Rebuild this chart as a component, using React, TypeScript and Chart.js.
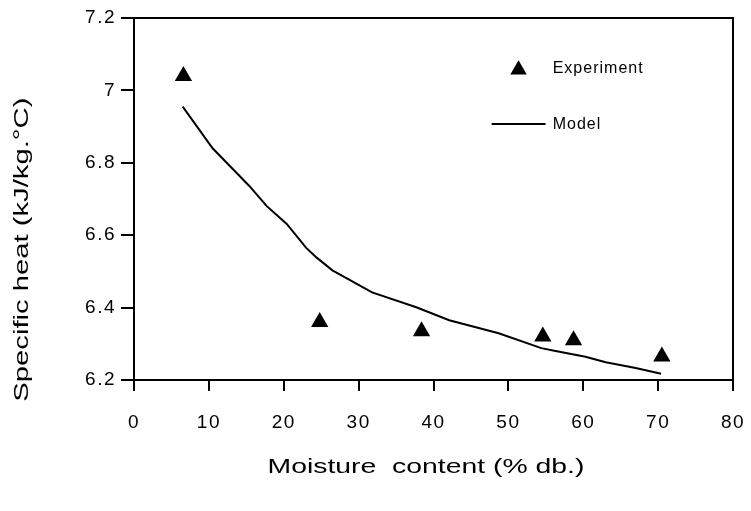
import React, { useEffect, useRef } from "react";
import { Chart, registerables } from "chart.js";

Chart.register(...registerables);

// Experimental data (moisture content % db., specific heat kJ/kg.°C)
const expX = [6.6, 24.8, 38.4, 54.6, 58.7, 70.5];
const expY = [7.04, 6.36, 6.335, 6.32, 6.31, 6.265];

// Model curve
const modelX = [6.5, 10.5, 15.4, 17.7, 20.4, 23.0, 24.4, 26.5, 31.8, 37.7, 42.1, 48.7, 54.4, 56.3, 60.3, 63.0, 67.0, 70.4];
const modelY = [6.955, 6.84, 6.736, 6.681, 6.631, 6.565, 6.538, 6.503, 6.442, 6.401, 6.365, 6.329, 6.288, 6.28, 6.264, 6.249, 6.233, 6.217];

// Tick values / labels
const xTicks = [0, 10, 20, 30, 40, 50, 60, 70, 80];
const yTicks = [6.2, 6.4, 6.6, 6.8, 7.0, 7.2];
const yTickLabels = ["6.2", "6.4", "6.6", "6.8", "7", "7.2"];

const legendLabels = ["Experiment", "Model"];
const xTitle = "Moisture  content (% db.)";
const yTitle = "Specific heat (kJ/kg.\u00B0C)";

const FONT = "'Liberation Sans', Arial, Helvetica, sans-serif";

function stretchedText(ctx: any, text: string, x: number, y: number, rot: number, length: number, size: number) {
  ctx.save();
  ctx.letterSpacing = "0px";
  ctx.font = `${size}px ${FONT}`;
  const m = ctx.measureText(text).width;
  ctx.translate(x, y);
  ctx.rotate(rot);
  ctx.scale(length / m, 1);
  ctx.textAlign = "center";
  ctx.textBaseline = "middle";
  ctx.fillStyle = "#000";
  ctx.fillText(text, 0, 0);
  ctx.restore();
}

const framePlugin = {
  id: "frame",
  beforeDraw(chart: any) {
    chart.ctx.letterSpacing = "1.5px";
  },
  afterDraw(chart: any) {
    const { ctx, chartArea } = chart;
    const { left, right, top, bottom } = chartArea;
    const w = right - left;
    const h = bottom - top;
    ctx.save();
    ctx.strokeStyle = "#000";
    ctx.lineWidth = 2;
    ctx.beginPath();
    ctx.moveTo(left - 13, top);
    ctx.lineTo(right, top);
    ctx.lineTo(right, bottom);
    ctx.stroke();

    // Axis titles
    stretchedText(ctx, xTitle, left + 0.4875 * w, bottom + 87, 0, 0.529 * w, 20);
    stretchedText(ctx, yTitle, left - 112, top + 0.64 * h, -Math.PI / 2, 0.84 * h, 20);

    // Legend
    const tx = left + 0.642 * w;
    const ty = top + 0.143 * h;
    const r = 9.5;
    ctx.fillStyle = "#000";
    ctx.beginPath();
    ctx.moveTo(tx, ty - r);
    ctx.lineTo(tx + r * Math.sin((2 * Math.PI) / 3), ty - r * Math.cos((2 * Math.PI) / 3));
    ctx.lineTo(tx - r * Math.sin((2 * Math.PI) / 3), ty - r * Math.cos((2 * Math.PI) / 3));
    ctx.closePath();
    ctx.fill();

    ctx.letterSpacing = "1px";
    ctx.font = `16px ${FONT}`;
    ctx.textBaseline = "middle";
    ctx.textAlign = "left";
    const textX = left + 0.699 * w;
    ctx.fillText(legendLabels[0], textX, top + 0.14 * h);

    const ly = top + 0.293 * h;
    ctx.beginPath();
    ctx.moveTo(left + 0.597 * w, ly);
    ctx.lineTo(left + 0.687 * w, ly);
    ctx.stroke();
    ctx.fillText(legendLabels[1], textX, ly + 1);
    ctx.restore();
  },
};

export default function App() {
  const ref = useRef<HTMLCanvasElement | null>(null);

  useEffect(() => {
    if (!ref.current) return;
    const chart = new Chart(ref.current, {
      type: "scatter",
      data: {
        datasets: [
          {
            label: legendLabels[1],
            type: "line",
            data: modelX.map((x, i) => ({ x, y: modelY[i] })),
            borderColor: "#000",
            borderWidth: 2,
            pointRadius: 0,
            fill: false,
            tension: 0,
          } as any,
          {
            label: legendLabels[0],
            data: expX.map((x, i) => ({ x, y: expY[i] })),
            pointStyle: "triangle",
            pointRadius: 10,
            backgroundColor: "#000",
            borderColor: "#000",
            borderWidth: 0,
          },
        ],
      },
      options: {
        animation: false,
        responsive: false,
        maintainAspectRatio: false,
        layout: { padding: { left: 0, top: 8, right: 8, bottom: 0 } },
        plugins: {
          legend: { display: false },
          tooltip: { enabled: false },
        },
        scales: {
          x: {
            type: "linear",
            min: 0,
            max: 80,
            afterBuildTicks(scale: any) {
              scale.ticks = xTicks.map((v) => ({ value: v }));
            },
            afterFit(scale: any) {
              scale.height = 123;
              scale.paddingLeft = 0;
              scale.paddingRight = 0;
            },
            ticks: {
              color: "#000",
              font: { family: FONT, size: 19 },
              padding: 20,
              maxRotation: 0,
              autoSkip: false,
              callback: (v: any) => String(v),
            },
            grid: {
              drawOnChartArea: false,
              drawTicks: true,
              tickLength: 11,
              color: "#000",
              lineWidth: 2,
            },
            border: { display: true, color: "#000", width: 2 },
            title: { display: false, text: xTitle },
          },
          y: {
            type: "linear",
            min: 6.2,
            max: 7.2,
            afterBuildTicks(scale: any) {
              scale.ticks = yTicks.map((v) => ({ value: v }));
            },
            afterFit(scale: any) {
              scale.width = 126;
              scale.paddingTop = 0;
              scale.paddingBottom = 0;
            },
            ticks: {
              color: "#000",
              font: { family: FONT, size: 19 },
              padding: 5,
              autoSkip: false,
              callback: (v: any) => {
                const i = yTicks.findIndex((t) => Math.abs(t - v) < 1e-6);
                return i >= 0 ? yTickLabels[i] : "";
              },
            },
            grid: {
              drawOnChartArea: false,
              drawTicks: true,
              tickLength: 13,
              color: "#000",
              lineWidth: 2,
            },
            border: { display: true, color: "#000", width: 2 },
            title: { display: false, text: yTitle },
          },
        },
      },
      plugins: [framePlugin],
    });
    return () => chart.destroy();
  }, []);

  return (
    <div style={{ width: 735, height: 495 }}>
      <canvas ref={ref} width={735} height={495} style={{ display: "block", width: 735, height: 495 }} />
    </div>
  );
}
